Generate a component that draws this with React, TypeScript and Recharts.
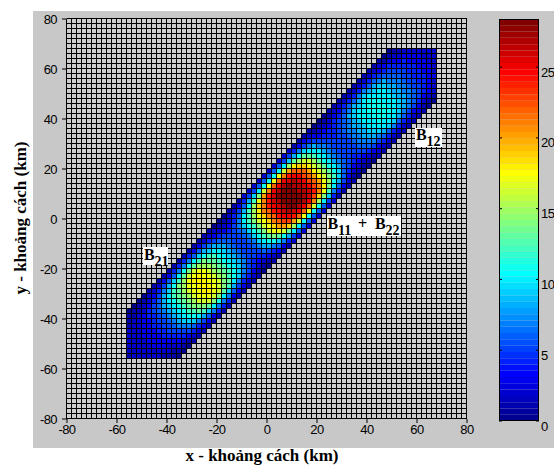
import React from "react";
import {
  ScatterChart,
  Scatter,
  XAxis,
  YAxis,
  CartesianGrid,
  BarChart,
  Bar,
} from "recharts";

const X_TICKS = [-80, -60, -40, -20, 0, 20, 40, 60, 80];
const Y_TICKS = [-80, -60, -40, -20, 0, 20, 40, 60, 80];
const CB_TICKS = [0, 5, 10, 15, 20, 25];
const C_MAX = 28.4;
const N_LEVELS = 64;

// mesh rows: [y of cell centre, x of first cell, values (2 km cells)]
const CELL_ROWS: [number, number, number[]][] = [
  [-55, -55, [1, 2, 2, 2, 2, 2, 2, 1, 1, 1, 0]],
  [-53, -55, [2, 2, 2, 2, 2, 2, 2, 2, 2, 1, 1, 0]],
  [-51, -55, [2, 2, 2, 2, 2, 3, 3, 3, 2, 2, 2, 1, 0]],
  [-49, -55, [2, 2, 2, 2, 3, 3, 3, 3, 3, 3, 3, 2, 1, 1]],
  [-47, -55, [2, 2, 2, 3, 3, 3, 3, 4, 4, 4, 4, 4, 3, 2, 1]],
  [-45, -55, [2, 2, 2, 3, 3, 3, 4, 4, 5, 5, 5, 5, 5, 4, 2, 1]],
  [-43, -55, [1, 2, 2, 3, 3, 4, 4, 5, 5, 6, 7, 7, 7, 6, 4, 3, 1]],
  [-41, -55, [1, 2, 2, 3, 3, 4, 5, 5, 6, 7, 8, 9, 9, 9, 7, 5, 3, 1]],
  [-39, -55, [1, 1, 2, 3, 4, 4, 5, 6, 7, 8, 9, 10, 11, 11, 10, 8, 6, 3, 1]],
  [-37, -55, [0, 1, 1, 2, 4, 5, 6, 7, 8, 9, 10, 11, 12, 12, 13, 12, 9, 7, 4, 1]],
  [-35, -53, [0, 1, 2, 3, 5, 6, 8, 9, 10, 11, 12, 13, 14, 14, 14, 13, 10, 7, 4, 1]],
  [-33, -51, [0, 1, 2, 4, 6, 8, 10, 11, 12, 13, 14, 15, 16, 16, 16, 14, 11, 7, 4, 1]],
  [-31, -49, [0, 2, 3, 5, 8, 10, 12, 13, 14, 15, 16, 17, 17, 17, 16, 14, 10, 7, 3, 1]],
  [-29, -47, [1, 2, 4, 7, 9, 12, 13, 15, 16, 17, 17, 18, 18, 17, 16, 13, 9, 6, 3, 1]],
  [-27, -45, [1, 2, 5, 8, 11, 14, 15, 17, 17, 18, 18, 18, 17, 16, 14, 12, 8, 5, 3, 1]],
  [-25, -43, [1, 3, 6, 9, 12, 15, 17, 18, 18, 18, 17, 17, 16, 14, 13, 10, 7, 4, 2, 1]],
  [-23, -41, [1, 3, 6, 10, 13, 16, 17, 18, 17, 17, 16, 15, 14, 12, 11, 9, 6, 4, 2, 1]],
  [-21, -39, [1, 4, 7, 11, 14, 16, 17, 17, 16, 15, 14, 13, 12, 11, 9, 7, 5, 3, 1, 0]],
  [-19, -37, [1, 4, 7, 11, 13, 15, 15, 15, 14, 13, 12, 11, 10, 9, 7, 5, 4, 2, 1, 0]],
  [-17, -35, [1, 4, 7, 10, 12, 14, 13, 13, 12, 11, 10, 9, 8, 7, 5, 4, 3, 2, 1, 1]],
  [-15, -33, [1, 4, 6, 9, 11, 12, 12, 11, 10, 9, 8, 7, 6, 5, 5, 4, 4, 3, 2, 1]],
  [-13, -31, [1, 3, 6, 8, 9, 10, 10, 9, 8, 7, 6, 5, 5, 5, 5, 6, 5, 4, 3, 1]],
  [-11, -29, [1, 3, 5, 7, 8, 8, 8, 7, 6, 5, 5, 5, 6, 7, 8, 8, 7, 6, 3, 1]],
  [-9, -27, [1, 2, 4, 5, 6, 6, 6, 5, 5, 5, 6, 7, 9, 10, 11, 11, 9, 7, 4, 2]],
  [-7, -25, [1, 2, 3, 4, 5, 5, 5, 5, 6, 7, 9, 11, 12, 13, 14, 13, 11, 8, 5, 2]],
  [-5, -23, [1, 2, 2, 3, 4, 5, 6, 7, 9, 11, 12, 14, 16, 17, 17, 16, 13, 10, 6, 2]],
  [-3, -21, [0, 1, 2, 3, 5, 7, 9, 11, 12, 14, 16, 17, 19, 20, 20, 19, 15, 10, 6, 2]],
  [-1, -19, [0, 1, 2, 4, 7, 10, 12, 14, 16, 17, 19, 21, 22, 23, 23, 20, 16, 11, 6, 2]],
  [1, -17, [0, 2, 4, 6, 10, 12, 15, 17, 19, 21, 22, 24, 25, 25, 24, 22, 17, 11, 6, 2]],
  [3, -15, [1, 2, 5, 8, 12, 15, 18, 21, 22, 24, 25, 26, 27, 26, 25, 22, 17, 11, 6, 2]],
  [5, -13, [1, 3, 6, 10, 15, 19, 21, 24, 25, 26, 27, 28, 28, 27, 25, 22, 16, 11, 6, 2]],
  [7, -11, [1, 4, 8, 12, 17, 21, 24, 26, 27, 28, 28, 28, 28, 27, 25, 21, 15, 10, 5, 2]],
  [9, -9, [2, 5, 9, 14, 20, 24, 26, 28, 28, 28, 28, 28, 27, 26, 23, 19, 14, 9, 4, 1]],
  [11, -7, [2, 5, 10, 16, 21, 25, 27, 28, 28, 28, 27, 27, 26, 24, 21, 17, 12, 7, 4, 1]],
  [13, -5, [2, 6, 11, 17, 22, 25, 27, 28, 27, 27, 26, 25, 23, 21, 18, 14, 10, 6, 3, 1]],
  [15, -3, [2, 6, 11, 17, 22, 25, 26, 27, 26, 25, 23, 22, 20, 17, 15, 11, 8, 5, 2, 1]],
  [17, -1, [2, 6, 11, 17, 21, 24, 25, 25, 23, 22, 20, 18, 16, 14, 12, 9, 6, 3, 1, 0]],
  [19, 1, [2, 6, 11, 16, 20, 22, 22, 22, 20, 18, 16, 15, 13, 11, 9, 6, 4, 2, 1, 0]],
  [21, 3, [2, 6, 10, 15, 18, 19, 19, 18, 16, 15, 13, 11, 10, 8, 6, 5, 3, 2, 1, 0]],
  [23, 5, [2, 5, 9, 13, 15, 16, 16, 15, 13, 11, 10, 8, 7, 6, 5, 4, 3, 2, 1, 0]],
  [25, 7, [2, 5, 8, 11, 13, 13, 12, 11, 10, 8, 7, 6, 5, 5, 4, 4, 3, 2, 1, 1]],
  [27, 9, [2, 4, 7, 9, 10, 10, 10, 8, 7, 6, 5, 5, 5, 5, 5, 5, 4, 3, 2, 1]],
  [29, 11, [1, 3, 5, 7, 8, 7, 7, 6, 5, 5, 5, 5, 5, 6, 6, 6, 5, 3, 2, 1]],
  [31, 13, [1, 3, 4, 5, 5, 5, 5, 5, 5, 5, 5, 6, 7, 7, 7, 7, 5, 4, 2, 1]],
  [33, 15, [1, 2, 3, 3, 4, 4, 4, 5, 5, 6, 7, 7, 8, 8, 8, 7, 6, 4, 2, 1]],
  [35, 17, [1, 1, 2, 3, 4, 4, 5, 6, 7, 7, 8, 8, 9, 9, 9, 8, 6, 4, 2, 1]],
  [37, 19, [0, 1, 2, 3, 4, 5, 6, 7, 8, 8, 9, 10, 10, 10, 10, 9, 7, 4, 2, 1]],
  [39, 21, [0, 1, 2, 4, 5, 6, 7, 8, 9, 10, 10, 10, 11, 10, 10, 9, 6, 4, 2, 1]],
  [41, 23, [0, 1, 3, 4, 6, 8, 9, 10, 10, 10, 11, 11, 11, 10, 10, 8, 6, 4, 2, 1]],
  [43, 25, [1, 2, 3, 5, 7, 9, 10, 10, 11, 11, 11, 11, 11, 10, 9, 7, 5, 3, 2, 1]],
  [45, 27, [1, 2, 4, 6, 8, 9, 10, 11, 11, 11, 11, 10, 10, 9, 8, 7, 5, 3, 1, 0]],
  [47, 29, [1, 2, 4, 6, 8, 10, 11, 11, 11, 10, 10, 10, 9, 8, 7, 6, 4, 2, 1, 0]],
  [49, 31, [1, 2, 4, 7, 9, 10, 10, 10, 10, 10, 9, 8, 8, 7, 6, 5, 3, 2, 1]],
  [51, 33, [1, 2, 4, 7, 8, 9, 10, 10, 9, 8, 8, 7, 7, 6, 5, 4, 3, 2]],
  [53, 35, [1, 2, 4, 6, 8, 9, 9, 8, 8, 7, 7, 6, 5, 5, 4, 3, 2]],
  [55, 37, [1, 2, 4, 6, 7, 8, 7, 7, 7, 6, 5, 5, 4, 4, 3, 2]],
  [57, 39, [1, 2, 4, 5, 6, 6, 6, 6, 5, 5, 4, 4, 4, 3, 3]],
  [59, 41, [1, 2, 3, 4, 5, 5, 5, 5, 4, 4, 4, 3, 3, 2]],
  [61, 43, [1, 2, 3, 4, 4, 4, 4, 4, 4, 3, 3, 3, 2]],
  [63, 45, [1, 1, 2, 3, 3, 4, 3, 3, 3, 3, 2, 2]],
  [65, 47, [0, 1, 2, 2, 3, 3, 3, 3, 2, 2, 2]],
  [67, 49, [0, 1, 1, 2, 2, 2, 2, 2, 2, 2]],
];

// matlab jet(64)
const jetPart = (k: number) =>
  k < 1 || k > 47 ? 0 : k <= 16 ? k / 16 : k <= 31 ? 1 : (48 - k) / 16;
const jetColor = (j: number) => {
  const r = Math.round(jetPart(j - 24) * 255);
  const g = Math.round(jetPart(j - 8) * 255);
  const b = Math.round(jetPart(j + 8) * 255);
  return `rgb(${r},${g},${b})`;
};
const colorOf = (v: number) =>
  jetColor(Math.min(N_LEVELS, Math.max(1, Math.floor((v / C_MAX) * N_LEVELS) + 1)));

const cells = CELL_ROWS.flatMap(([y, x0, vals]) =>
  vals.map((v, i) => ({ x: x0 + 2 * i, y, v }))
);

const LEVELS = Array.from({ length: N_LEVELS }, (_, i) => i);
const cbRow: Record<string, any> = { name: "cb" };
LEVELS.forEach((i) => (cbRow[`l${i}`] = C_MAX / N_LEVELS));

const TICK_FONT = "'Liberation Sans', Arial, sans-serif";
const SERIF = "'Liberation Serif', 'Times New Roman', serif";

// mesh lines every 2 km (80 cells per axis)
const vLines = ({ offset }: any) =>
  Array.from({ length: 81 }, (_, i) => offset.left - 0.5 + (i * offset.width) / 80);
const hLines = ({ offset }: any) =>
  Array.from({ length: 81 }, (_, i) => offset.top - 0.5 + (i * offset.height) / 80);

// one faceted cell: black edge on the left/top, coloured face
const MeshCell = (props: any) => {
  const { cx, cy, payload } = props;
  const x0 = Math.round(cx - 2.5);
  const y0 = Math.round(cy - 2.5);
  return (
    <g shapeRendering="crispEdges">
      <rect x={x0 - 1} y={y0 - 1} width={6} height={6} fill="#000" />
      <rect x={x0} y={y0} width={4} height={4} fill={colorOf(payload.v)} />
    </g>
  );
};

const CbTick = (props: any) => {
  const { y, payload } = props;
  return (
    <g>
      <line x1={0} x2={3} y1={y} y2={y} stroke="#000" />
      <line x1={37} x2={40} y1={y} y2={y} stroke="#000" />
      <text
        x={42}
        y={y + 5}
        dy="0.35em"
        fontSize={13}
        fontFamily={TICK_FONT}
        letterSpacing={-0.6}
        fill="#000"
      >
        {payload.value}
      </text>
    </g>
  );
};

const tickStyle = {
  fontSize: 13,
  fill: "#000",
  fontFamily: TICK_FONT,
  letterSpacing: -0.6,
};

const Sub = ({ x, y, main, sub }: any) => (
  <g fontFamily={SERIF} fontWeight="bold" fill="#000">
    <text x={x} y={y} fontSize={16}>
      {main}
    </text>
    <text x={x + 10.5} y={y + 6} fontSize={14}>
      {sub}
    </text>
  </g>
);

export default function App() {
  return (
    <div
      style={{
        position: "absolute",
        left: 0,
        top: 0,
        width: 554,
        height: 468,
        background: "#fff",
        overflow: "hidden",
      }}
    >
      <div
        style={{
          position: "absolute",
          left: 33,
          top: 11,
          width: 521,
          height: 437,
          background: "#c8c8c8",
        }}
      />
      <div style={{ position: "absolute", left: 0, top: 0 }}>
        <ScatterChart
          width={554}
          height={468}
          margin={{ top: 19, right: 87, bottom: 19, left: 37 }}
        >
          <CartesianGrid
            stroke="#000"
            strokeWidth={1}
            fill="#cdcdcd"
            fillOpacity={1}
            verticalCoordinatesGenerator={vLines}
            horizontalCoordinatesGenerator={hLines}
          />
          <XAxis
            type="number"
            dataKey="x"
            domain={[-80, 80]}
            ticks={X_TICKS}
            allowDataOverflow
            axisLine={false}
            tickLine={{ stroke: "#000" }}
            tickSize={4}
            tickMargin={2}
            height={30}
            tick={tickStyle}
            interval={0}
          />
          <YAxis
            type="number"
            dataKey="y"
            domain={[-80, 80]}
            ticks={Y_TICKS}
            allowDataOverflow
            axisLine={false}
            tickLine={{ stroke: "#000" }}
            tickSize={5}
            tickMargin={5}
            width={30}
            tick={tickStyle}
            interval={0}
          />
          <Scatter
            data={cells}
            shape={<MeshCell />}
            isAnimationActive={false}
          />
        </ScatterChart>
      </div>
      <div style={{ position: "absolute", left: 499, top: 19 }}>
        <BarChart
          width={55}
          height={422}
          data={[cbRow]}
          margin={{ top: 0, right: 0, bottom: 20, left: 0 }}
          barCategoryGap={0}
          barGap={0}
        >
          <XAxis dataKey="name" hide />
          {LEVELS.map((i) => (
            <Bar
              key={i}
              dataKey={`l${i}`}
              stackId="cb"
              fill={jetColor(i + 1)}
              isAnimationActive={false}
            />
          ))}
          <YAxis
            orientation="right"
            type="number"
            domain={[0, C_MAX]}
            ticks={CB_TICKS}
            allowDataOverflow
            axisLine={false}
            tickLine={false}
            tickSize={0}
            width={15}
            interval={0}
            tick={<CbTick />}
          />
        </BarChart>
      </div>
      <svg
        width={554}
        height={468}
        style={{ position: "absolute", left: 0, top: 0, pointerEvents: "none" }}
      >
        <rect x={499.5} y={19.5} width={39} height={401} fill="none" stroke="#000" />
        <text
          x={262}
          y={461}
          textAnchor="middle"
          fontFamily={SERIF}
          fontWeight="bold"
          fontSize={17}
          fill="#000"
        >
          x - khoảng cách (km)
        </text>
        <text
          transform="translate(26,218) rotate(-90)"
          textAnchor="middle"
          fontFamily={SERIF}
          fontWeight="bold"
          fontSize={17}
          fill="#000"
        >
          y - khoảng cách (km)
        </text>

        <rect x={143} y={247} width={25} height={18} fill="#fff" />
        <Sub x={144} y={259.5} main="B" sub="21" />

        <rect x={327} y={216} width={74} height={20} fill="#fff" />
        <Sub x={327.5} y={228.5} main="B" sub="11" />
        <text x={358} y={228.5} fontFamily={SERIF} fontWeight="bold" fontSize={16}>
          +
        </text>
        <Sub x={375} y={228.5} main="B" sub="22" />

        <rect x={415} y={128} width={27} height={19} fill="#fff" />
        <Sub x={416} y={139.5} main="B" sub="12" />
      </svg>
    </div>
  );
}
